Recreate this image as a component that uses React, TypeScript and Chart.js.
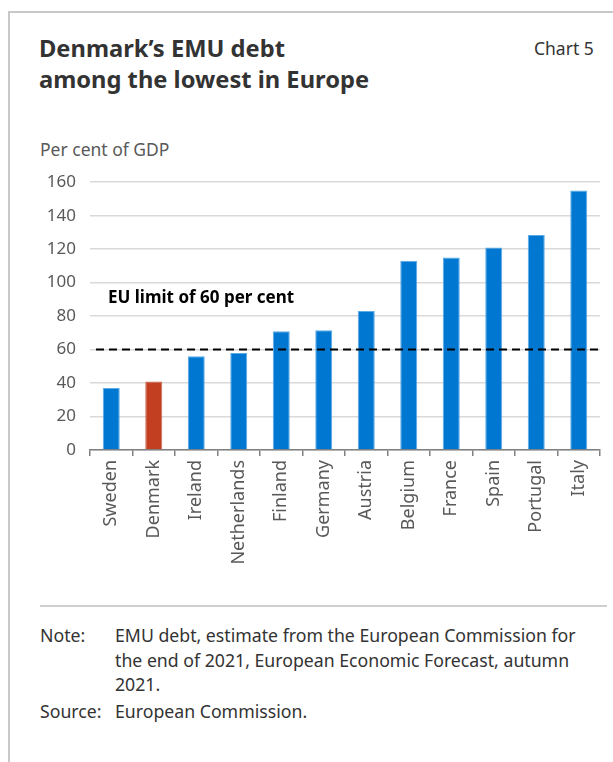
import React, { useEffect, useRef } from "react";
import { Chart, registerables } from "chart.js";

Chart.register(...registerables);

const COUNTRIES = [
  "Sweden", "Denmark", "Ireland", "Netherlands", "Finland", "Germany",
  "Austria", "Belgium", "France", "Spain", "Portugal", "Italy",
];
const DEBT = [37, 41, 56, 58, 71, 71.5, 83, 113, 115, 121, 128.5, 155];
const HIGHLIGHT = "Denmark";
const EU_LIMIT = 60;
const Y_MIN = 0;
const Y_MAX = 160;
const Y_STEP = 20;

const FONT = "'Noto Sans', 'Open Sans', sans-serif";
const BLUE = "#0078d2";
const RED = "#c33f22";

const limitPlugin = {
  id: "euLimit",
  afterDatasetsDraw(chart: any) {
    const { ctx, chartArea, scales } = chart;
    const y = scales.y.getPixelForValue(EU_LIMIT);
    ctx.save();
    ctx.strokeStyle = "#000";
    ctx.lineWidth = 2;
    ctx.setLineDash([8, 5]);
    ctx.beginPath();
    ctx.moveTo(chartArea.left + 6, y);
    ctx.lineTo(chartArea.right, y);
    ctx.stroke();
    ctx.setLineDash([]);
    ctx.fillStyle = "#000";
    ctx.font = `bold 17px ${FONT}`;
    ctx.textBaseline = "middle";
    ctx.textAlign = "left";
    ctx.fillText("EU limit of 60 per cent", chartArea.left + 18, y - 51);
    ctx.restore();
  },
};

function BarChart() {
  const ref = useRef<HTMLCanvasElement | null>(null);
  useEffect(() => {
    if (!ref.current) return;
    const chart = new Chart(ref.current, {
      type: "bar",
      data: {
        labels: COUNTRIES,
        datasets: [
          {
            data: DEBT,
            backgroundColor: COUNTRIES.map((c) => (c === HIGHLIGHT ? RED : BLUE)),
            borderColor: COUNTRIES.map((c) => (c === HIGHLIGHT ? "#d0684f" : "#5aaae6")),
            borderWidth: 1,
            barPercentage: 0.4,
            categoryPercentage: 1,
          },
        ],
      },
      options: {
        animation: false,
        responsive: false,
        devicePixelRatio: 1,
        layout: { padding: { top: 9, right: 10, left: 0, bottom: 0 } },
        plugins: { legend: { display: false }, tooltip: { enabled: false }, title: { display: false } },
        scales: {
          y: {
            min: Y_MIN,
            max: Y_MAX,
            ticks: { stepSize: Y_STEP, font: { family: FONT, size: 17 }, color: "#595959", padding: 14 },
            grid: { color: "#d9d9d9", lineWidth: 1.5, drawTicks: false },
            border: { display: false },
            afterFit: (s: any) => { s.width = 60; },
          },
          x: {
            offset: true,
            grid: { display: true, drawOnChartArea: false, offset: true, tickLength: 6, color: "#808080", lineWidth: 1.5 },
            border: { color: "#808080", width: 1.5 },
            ticks: { minRotation: 90, maxRotation: 90, font: { family: FONT, size: 18 }, color: "#595959", padding: 4 },
            afterFit: (s: any) => { s.height = 135; },
          },
        },
      },
      plugins: [limitPlugin],
    } as any);
    return () => chart.destroy();
  }, []);
  return (
    <canvas
      ref={ref}
      width={580}
      height={427}
      style={{ position: "absolute", left: 30, top: 158, width: 580, height: 427 }}
    />
  );
}

export default function App() {
  return (
    <div style={{ position: "absolute", left: 0, top: 0, width: 613, height: 762, fontFamily: FONT, background: "#fff", overflow: "hidden" }}>
      <div style={{ position: "absolute", left: 8, top: 11, width: 620, height: 800, borderLeft: "2px solid #c8c8c8", borderTop: "2px solid #c8c8c8" }} />
      <div style={{ position: "absolute", left: 39, top: 33, fontSize: 23.7, fontWeight: 700, lineHeight: "31px", color: "#333", whiteSpace: "nowrap" }}>
        Denmark’s EMU debt<br />among the lowest in Europe
      </div>
      <div style={{ position: "absolute", left: 534, top: 36, fontSize: 17.5, color: "#333", whiteSpace: "nowrap" }}>Chart 5</div>
      <div style={{ position: "absolute", left: 40, top: 137, fontSize: 17.5, color: "#595959", whiteSpace: "nowrap" }}>Per cent of GDP</div>
      <BarChart />
      <div style={{ position: "absolute", left: 40, top: 605, width: 567, height: 1.5, background: "#cfcfcf" }} />
      <div style={{ position: "absolute", left: 40, top: 623, fontSize: 17.7, lineHeight: "24.5px", color: "#333", whiteSpace: "nowrap" }}>
        <div style={{ display: "flex" }}>
          <div style={{ width: 75 }}>Note:</div>
          <div>EMU debt, estimate from the European Commission for<br />the end of 2021, European Economic Forecast, autumn<br />2021.</div>
        </div>
        <div style={{ display: "flex", marginTop: 2 }}>
          <div style={{ width: 75 }}>Source:</div>
          <div>European Commission.</div>
        </div>
      </div>
    </div>
  );
}
